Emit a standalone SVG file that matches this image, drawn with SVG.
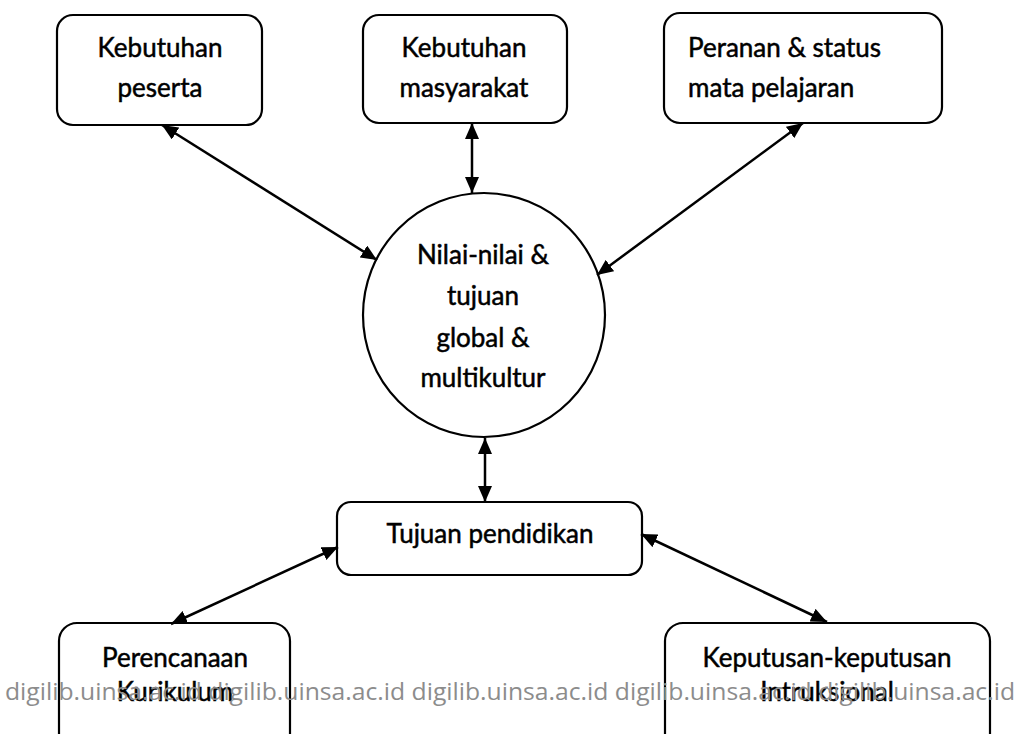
<svg xmlns="http://www.w3.org/2000/svg" width="1023" height="734" viewBox="0 0 1023 734">
  <style>
    .box { fill: #ffffff; stroke: #000000; stroke-width: 2.2; }
    .lbl { font-family: Lato, "Open Sans", "Liberation Sans", sans-serif; font-size: 26px; fill: #000000; stroke: #000000; stroke-width: 0.5px; }
    .mid { text-anchor: middle; }
    .conn { stroke: #000000; stroke-width: 2.5; fill: none; marker-start: url(#ah); marker-end: url(#ah); }
    .wm { font-family: "Open Sans", "Liberation Sans", sans-serif; font-size: 23px; fill: #8c8c8c; }
  </style>
  <defs>
    <marker id="ah" viewBox="0 0 16 14" refX="16" refY="7" markerWidth="16" markerHeight="14" markerUnits="userSpaceOnUse" orient="auto-start-reverse">
      <path d="M0,0 L16,7 L0,14 Z" fill="#000000"/>
    </marker>
  </defs>
  <rect width="1023" height="734" fill="#ffffff"/>

  <g id="n-kebutuhan-peserta">
    <rect class="box" x="57" y="15" width="205" height="110" rx="16"/>
    <text class="lbl mid" x="160" y="57">Kebutuhan</text>
    <text class="lbl mid" x="160" y="97">peserta</text>
  </g>
  <g id="n-kebutuhan-masyarakat">
    <rect class="box" x="363" y="15" width="204" height="108" rx="16"/>
    <text class="lbl mid" x="464" y="57">Kebutuhan</text>
    <text class="lbl mid" x="464" y="97">masyarakat</text>
  </g>
  <g id="n-peranan">
    <rect class="box" x="664" y="13" width="278" height="110" rx="16"/>
    <text class="lbl" x="688" y="57">Peranan &amp; status</text>
    <text class="lbl" x="688" y="97">mata pelajaran</text>
  </g>
  <g id="n-nilai">
    <ellipse class="box" cx="484" cy="315" rx="121" ry="122"/>
    <text class="lbl mid" x="483" y="264">Nilai-nilai &amp;</text>
    <text class="lbl mid" x="483" y="305">tujuan</text>
    <text class="lbl mid" x="483" y="347">global &amp;</text>
    <text class="lbl mid" x="483" y="387">multikultur</text>
  </g>
  <g id="n-tujuan">
    <rect class="box" x="337" y="502" width="305" height="73" rx="14"/>
    <text class="lbl mid" x="490" y="543">Tujuan pendidikan</text>
  </g>
  <g id="n-perencanaan">
    <rect class="box" x="59" y="623" width="231" height="130" rx="18"/>
    <text class="lbl mid" x="175" y="667">Perencanaan</text>
    <text class="lbl mid" x="175" y="701">Kurikulum</text>
  </g>
  <g id="n-keputusan">
    <rect class="box" x="665" y="623" width="325" height="130" rx="18"/>
    <text class="lbl mid" x="827" y="667">Keputusan-keputusan</text>
    <text class="lbl mid" x="827" y="701">Intruksional</text>
  </g>

  <g id="connectors">
    <line class="conn" x1="162" y1="125" x2="377" y2="260"/>
    <line class="conn" x1="472" y1="123" x2="472" y2="193"/>
    <line class="conn" x1="803" y1="123" x2="597" y2="275"/>
    <line class="conn" x1="485" y1="438" x2="485" y2="502"/>
    <line class="conn" x1="338" y1="547" x2="171" y2="624"/>
    <line class="conn" x1="641" y1="534" x2="827" y2="622"/>
  </g>

  <text class="wm" x="5" y="700" textLength="1010" lengthAdjust="spacingAndGlyphs">digilib.uinsa.ac.id digilib.uinsa.ac.id digilib.uinsa.ac.id digilib.uinsa.ac.id digilib.uinsa.ac.id</text>
</svg>
